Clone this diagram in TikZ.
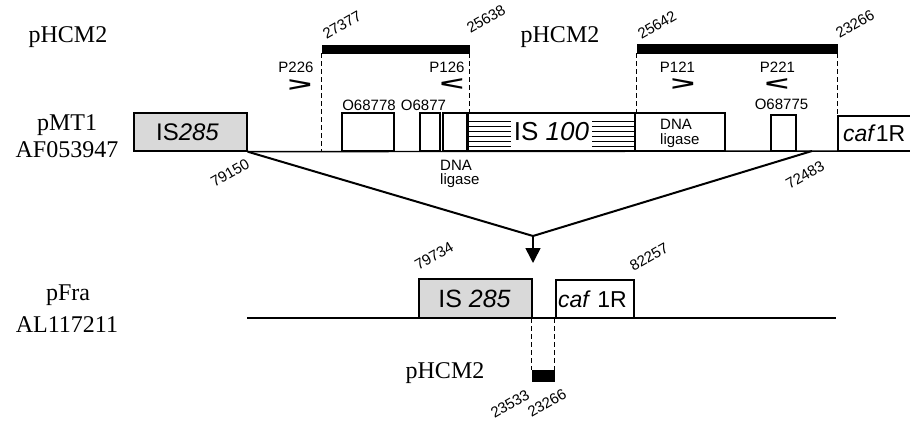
\documentclass[tikz,border=0pt]{standalone}
\usepackage{fontspec}
\usepackage{graphicx}
\setmainfont{Liberation Serif}
\setsansfont{Liberation Sans}
\usetikzlibrary{arrows.meta}
\begin{document}
\begin{tikzpicture}[x=1pt,y=-1pt,
  serif/.style={font=\fontsize{24}{26}\selectfont, inner sep=0, anchor=base},
  lab/.style={font=\sffamily\fontsize{15}{17}\selectfont, inner sep=0, anchor=base},
  labw/.style={font=\sffamily\fontsize{15}{17}\selectfont, inner sep=0, anchor=base west},
  num/.style={font=\sffamily\fontsize{15}{17}\selectfont, inner sep=0, rotate=30},
  chev/.style={font=\sffamily\bfseries\fontsize{33}{33}\selectfont, inner sep=0},
  genebox/.style={draw, line width=1.4pt, fill=white, inner sep=0},
  isbox/.style={genebox, fill=black!15},
  bar/.style={fill=black, draw=black, line width=0.5pt, inner sep=0},
  dline/.style={line width=1.2pt, dash pattern=on 5pt off 3pt},
  baseln/.style={line width=1.4pt},
  conv/.style={line width=2pt},
  istext/.style={font=\sffamily\fontsize{24}{26}\selectfont, inner sep=0, anchor=base},
]
\useasboundingbox (0,0) rectangle (910,422);
\clip (0,0) rectangle (910,422);
\fill[white] (0,0) rectangle (910,422);

% ---------- top row ----------
\coordinate (topend) at (910,151);
\coordinate (r) at (812,151);
\coordinate (v) at (533,236);
\coordinate (tip) at (533,263);

\node[isbox, minimum width=113pt, minimum height=38pt] (is285a) at (190.5,132) {};
\draw[baseln] (is285a.south east) -- (topend);

% bars (pHCM2)
\node[bar, minimum width=147pt, minimum height=8pt] (bar1) at (395.5,49) {};
\node[bar, minimum width=200pt, minimum height=9pt] (bar2) at (737,48.5) {};

% gene boxes
\node[genebox, minimum width=52pt, minimum height=38pt] (o68778b) at (368,132) {};
\node[genebox, minimum width=20pt, minimum height=38pt] (o6877b) at (430,132) {};
\node[genebox, minimum width=24pt, minimum height=38pt] (dna1b) at (455,132) {};
\node[genebox, minimum width=167pt, minimum height=38pt] (is100) at (551.5,132) {};
\node[genebox, minimum width=90pt, minimum height=38pt] (dna2b) at (680,132) {};
\node[genebox, minimum width=25pt, minimum height=36pt] (o68775b) at (783.5,133) {};
\node[genebox, minimum width=92pt, minimum height=35pt] (caf1a) at (884,133.5) {};

% IS100 hatching
\foreach \yy in {122,127,132,137,142,147}{
  \draw[line width=1pt] (is100.west |- 0,\yy) -- (is100.east |- 0,\yy);
}
\node[font=\sffamily\fontsize{26}{28}\selectfont, fill=white, inner xsep=3pt, inner ysep=0pt, minimum height=35pt] (is100t) at (551.5,132) {IS \textit{100}};

% dashed lines
\draw[dline] (bar1.south west) -- (bar1.south west |- is285a.south);
\draw[dline] (bar1.south east) -- (bar1.south east |- is100.north);
\draw[dline] (bar2.south west) -- (bar2.south west |- dna2b.north);
\draw[dline] (bar2.south east) -- (bar2.south east |- is285a.south);

% texts top
\node[istext] (is285at) at (187.5,141) {IS\textit{285}};
\node[font=\sffamily\fontsize{23}{25}\selectfont, inner sep=0, anchor=base west] (caf1at) at (843,142) {\textit{caf}1R};
\node[labw] (dna2t1) at (660,130) {DNA};
\node[labw] (dna2t2) at (660,145) {ligase};
\node[labw] (dna1t1) at (440,171) {DNA};
\node[labw] (dna1t2) at (440,185) {ligase};

\node[lab] (p226) at (296,73) {P226};
\node[lab] (p126) at (447,73) {P126};
\node[lab] (p121) at (677.5,73) {P121};
\node[lab] (p221) at (777.5,73) {P221};
\node[chev] (c226) at (300,86) {\scalebox{1.25}[0.6]{>}};
\node[chev] (c126) at (452,85) {\scalebox{1.25}[0.6]{<}};
\node[chev] (c121) at (683,85) {\scalebox{1.25}[0.6]{>}};
\node[chev] (c221) at (777,85) {\scalebox{1.25}[0.6]{<}};

\node[lab] (lo68778) at (369,111) {O68778};
\node[lab] (lo6877) at (423.5,111) {O6877};
\node[lab] (lo68775) at (781.5,110) {O68775};

\node[num] (n27377) at (342,25) {27377};
\node[num] (n25638) at (486,19) {25638};
\node[num] (n25642) at (657,25) {25642};
\node[num] (n23266a) at (855,24) {23266};
\node[num] (n79150) at (230,173) {79150};
\node[num] (n72483) at (805,175) {72483};

\node[serif] (lphcm2a) at (68,43) {pHCM2};
\node[serif] (lphcm2b) at (560,43) {pHCM2};
\node[serif] (lpmt1) at (67,131) {pMT1};
\node[serif] (laf) at (67,158) {AF053947};

% converging lines and arrow
\draw[conv, line join=miter] (is285a.south east) -- (v) -- (r);
\draw[line width=1.6pt, -{Triangle[width=15pt,length=15pt]}] (v) -- (tip);

% ---------- bottom row ----------
\coordinate (b2s) at (247,318);
\coordinate (b2e) at (836,318);
\draw[baseln] (b2s) -- (b2e);
\node[isbox, minimum width=113pt, minimum height=39pt] (is285b) at (475.5,298.5) {};
\node[genebox, minimum width=78pt, minimum height=38pt] (caf1b) at (595,299) {};
\node[bar, minimum width=22pt, minimum height=11pt] (bar3) at (543,375.5) {};
\draw[dline] (bar3.north west |- b2s) -- (bar3.north west);
\draw[dline] (bar3.north east |- b2s) -- (bar3.north east);

\node[istext, font=\sffamily\fontsize{25}{27}\selectfont] (is285bt) at (474.5,307) {IS \textit{285}};
\node[font=\sffamily\fontsize{23}{25}\selectfont, inner sep=0, anchor=base west] (caf1bt) at (558,307) {\textit{caf} 1R};

\node[num] (n79734) at (434,256) {79734};
\node[num] (n82257) at (649,257) {82257};
\node[num] (n23533) at (510,404) {23533};
\node[num] (n23266b) at (547,403) {23266};

\node[serif] (lpfra) at (68,300) {pFra};
\node[serif] (lal) at (67,332) {AL117211};
\node[serif] (lphcm2c) at (445,378) {pHCM2};
\end{tikzpicture}
\end{document}
